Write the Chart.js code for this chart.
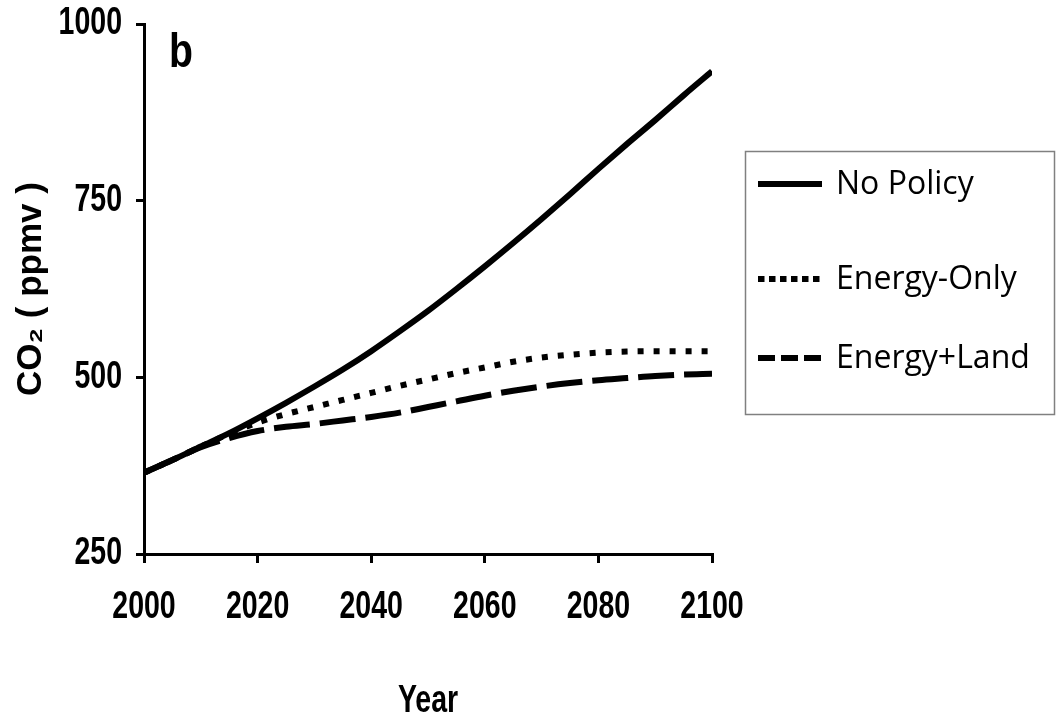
<!DOCTYPE html>
<html><head><meta charset="utf-8">
<script src="https://cdn.jsdelivr.net/npm/chart.js@4"></script>
<style>html,body{margin:0;padding:0;background:#fff;overflow:hidden}</style>
</head><body>
<canvas id="c" width="1058" height="721" style="width:1058px;height:721px;display:block"></canvas>
<script>
// ---- data ----
const years       = [2000,2005,2010,2015,2020,2025,2030,2035,2040,2045,2050,2055,2060,2065,2070,2075,2080,2085,2090,2095,2100];
const noPolicy    = [365,383,402,421,442,464,487,511,537,565,594,625,657,690,724,759,795,830,864,899,933];
const energyOnly  = [365,383,402,420,436,448,458,468,478,488,497,506,514,522,528,532,535,536.5,537,537,537];
const energyLand  = [365,383,401,414,424,430,434,439,444,450,458,466,474,481,487,492,496,499,502,504,505];
const seriesNames = ['No Policy','Energy-Only','Energy+Land'];
const xTicks      = [2000,2020,2040,2060,2080,2100];
const yTicks      = [250,500,750,1000];
const xTitle      = 'Year';
const yTitle      = 'CO\u2082 ( ppmv )';
const panelLabel  = 'b';

const BOLDFAM = "'Liberation Sans', Arial, sans-serif";
const NARROW_SIZE = 38;     // texts drawn at this size are condensed horizontally (Arial Narrow look)
const NARROW_SCALE = 0.75;
const pts = arr => years.map((x,i)=>({x:x,y:arr[i]}));

const legendStyles = [[], [6.5,4.5], [17,6]];

const narrow = {
  id:'narrow',
  beforeDraw(chart){
    const ctx = chart.ctx;
    if (ctx._narrowPatched) return;
    const orig = ctx.fillText.bind(ctx);
    const re = new RegExp('\\b' + NARROW_SIZE + 'px');
    ctx.fillText = function(text, x, y, maxWidth){
      if (re.test(ctx.font)) {
        ctx.save();
        ctx.translate(x, y);
        ctx.scale(NARROW_SCALE, 1);
        orig(text, 0, 0);
        ctx.restore();
      } else if (maxWidth !== undefined) {
        orig(text, x, y, maxWidth);
      } else {
        orig(text, x, y);
      }
    };
    ctx._narrowPatched = true;
  }
};

const extras = {
  id:'extras',
  afterDraw(chart){
    const ctx = chart.ctx;
    ctx.save();
    // panel label
    ctx.fillStyle = '#000';
    ctx.font = "bold 49px " + BOLDFAM;
    ctx.textBaseline = 'alphabetic';
    ctx.textAlign = 'left';
    ctx.save();
    ctx.translate(169, 67);
    ctx.scale(0.8, 1);
    ctx.fillText(panelLabel, 0, 0);
    ctx.restore();
    // legend box
    ctx.strokeStyle = '#808080';
    ctx.lineWidth = 1.5;
    ctx.strokeRect(745.5, 151.5, 309, 263);
    const rows = [184, 279, 358];
    chart.data.datasets.forEach((ds,i)=>{
      const y = rows[i];
      ctx.beginPath();
      ctx.strokeStyle = ds.borderColor;
      ctx.lineWidth = ds.borderWidth;
      ctx.lineCap = 'butt';
      ctx.setLineDash(legendStyles[i]);
      ctx.moveTo(758, y);
      ctx.lineTo(822, y);
      ctx.stroke();
      ctx.setLineDash([]);
      ctx.fillStyle = '#000';
      ctx.font = "32px 'Open Sans', 'Noto Sans', sans-serif";
      ctx.textBaseline = 'middle';
      ctx.textAlign = 'left';
      ctx.fillText(ds.label, 836, y+1);
    });
    ctx.restore();
  }
};

new Chart(document.getElementById('c'), {
  type:'line',
  data:{
    datasets:[
      {label:seriesNames[0], data:pts(noPolicy), borderColor:'#000', borderWidth:6, pointRadius:0, cubicInterpolationMode:'monotone', borderCapStyle:'butt'},
      {label:seriesNames[1], data:pts(energyOnly), borderColor:'#000', borderWidth:6, pointRadius:0, cubicInterpolationMode:'monotone', borderDash:[6,10], borderCapStyle:'butt'},
      {label:seriesNames[2], data:pts(energyLand), borderColor:'#000', borderWidth:6, pointRadius:0, cubicInterpolationMode:'monotone', borderDash:[36,10], borderCapStyle:'butt'}
    ]
  },
  options:{
    responsive:false,
    animation:false,
    devicePixelRatio:1,
    layout:{padding:{left:0, top:24, right:346, bottom:0}},
    plugins:{legend:{display:false}, tooltip:{enabled:false}},
    scales:{
      x:{
        type:'linear', min:2000, max:2100,
        afterBuildTicks(s){ s.ticks = xTicks.map(v=>({value:v})); },
        afterFit(s){ s.height = 167; s.paddingLeft = 0; s.paddingRight = 0; },
        grid:{display:true, drawOnChartArea:false, drawTicks:true, tickLength:9, color:'#000', lineWidth:3},
        border:{display:true, color:'#000', width:3},
        ticks:{color:'#000', padding:22, maxRotation:0, autoSkip:false, callback:v=>String(v),
               font:{family:BOLDFAM, size:NARROW_SIZE, weight:'bold'}},
        title:{display:true, text:xTitle, color:'#000', padding:{top:0,bottom:0},
               font:{family:BOLDFAM, size:NARROW_SIZE, weight:'bold', lineHeight:1.0}}
      },
      y:{
        type:'linear', min:250, max:1000,
        afterBuildTicks(s){ s.ticks = yTicks.map(v=>({value:v})); },
        afterFit(s){ s.width = 144; s.paddingTop = 0; s.paddingBottom = 0; },
        grid:{display:true, drawOnChartArea:false, drawTicks:true, tickLength:8, color:'#000', lineWidth:3},
        border:{display:true, color:'#000', width:3},
        ticks:{color:'#000', padding:14, autoSkip:false, callback:v=>String(v),
               font:{family:BOLDFAM, size:NARROW_SIZE, weight:'bold'}},
        title:{display:true, text:yTitle, color:'#000', padding:{top:10,bottom:0},
               font:{family:BOLDFAM, size:35, weight:'bold'}}
      }
    }
  },
  plugins:[narrow, extras]
});
</script>
</body></html>
